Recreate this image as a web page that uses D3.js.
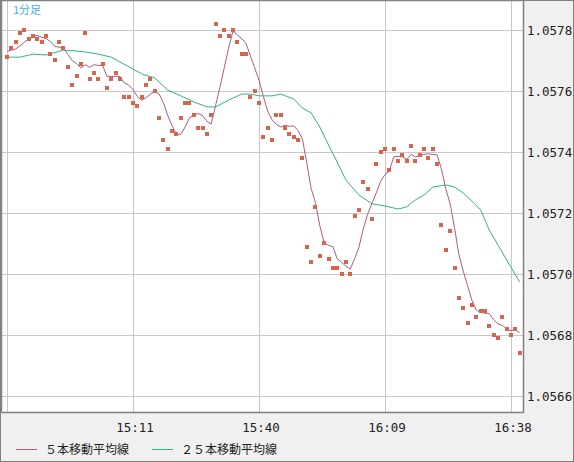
<!DOCTYPE html>
<html><head><meta charset="utf-8">
<script src="https://cdn.jsdelivr.net/npm/d3@7"></script>
<style>body{margin:0;background:#f0f0f0}</style>
</head><body><div id="chart"></div>
<script>
// 1-minute closes, 1.05xxx (last three digits, x1e-5)
let closes = [771,774,776,779,780,777,778,777,776,778,
    772,770,776,774,768,762,765,769,779,764,
    766,764,769,761,764,766,764,758,758,756,
    755,758,762,764,760,751,744,741,747,746,
    751,756,756,752,748,748,746,752,782,778,
    780,778,780,776,772,772,758,760,756,745,
    748,744,752,752,748,746,745,744,738,709,
    704,722,706,710,705,702,702,700,704,700,
    719,721,730,728,718,736,740,741,734,741,
    737,739,737,742,737,739,741,738,741,736,
    716,708,714,702,692,689,684,690,686,688,
    688,683,680,679,686,682,680,682,674].map(d => 1.05 + d / 1e5);
// closes before the window, needed for the 5-bar average
let priorCloses = [772, 774, 774, 774].map(d => 1.05 + d / 1e5);

let ma25Idx = [0,3,6,9,13,16,18,21,24,26,29,31,34,37,40,43,46,48,51,54,56,58,61,63,66,68,70,72,74,76,78,81,84,87,90,92,94,96,98,101,103,105,107,109,111,113,115,118];
let ma25Val = [1.057711,1.057711,1.057721,1.057718,1.057734,1.057731,1.057728,1.057721,1.057711,1.057695,1.057672,1.057656,1.057643,1.057603,1.057584,1.057564,1.057548,1.057548,1.057570,1.057590,1.057590,1.057584,1.057584,1.057590,1.057574,1.057544,1.057528,1.057482,1.057423,1.057367,1.057308,1.057259,1.057230,1.057223,1.057213,1.057220,1.057243,1.057259,1.057285,1.057292,1.057285,1.057266,1.057239,1.057210,1.057144,1.057095,1.057046,1.056974];

let priceTicks = [1.0566, 1.0568, 1.0570, 1.0572, 1.0574, 1.0576, 1.0578];
let timeTicks = [{i: 29, label: "15:11"}, {i: 58, label: "15:40"}, {i: 87, label: "16:09"}, {i: 116, label: "16:38"}];

let width = 574, height = 462;
let plot = {left: 2, right: 523, top: 0, bottom: 412};

let svg = d3.select("#chart").append("svg")
    .attr("width", width)
    .attr("height", height)
    .style("font-family", "'DejaVu Sans Mono', monospace");

svg.append("rect").attr("width", width).attr("height", height).attr("fill", "#f0f0f0");
svg.append("rect")
    .attr("x", plot.left).attr("y", plot.top)
    .attr("width", plot.right - plot.left).attr("height", plot.bottom - plot.top)
    .attr("fill", "white");

let x = d3.scaleLinear().domain([0, 118]).range([7, 519.7]);
let y = d3.scaleLinear().domain([1.0566, 1.0578]).range([396, 30]);

// grid
svg.selectAll(".hgrid").data(priceTicks).enter().append("line")
    .attr("x1", plot.left).attr("x2", plot.right)
    .attr("y1", d => Math.round(y(d)) + 0.5).attr("y2", d => Math.round(y(d)) + 0.5)
    .attr("stroke", "#c8c8c8");
svg.selectAll(".vgrid").data([0].concat(timeTicks.map(t => t.i))).enter().append("line")
    .attr("x1", d => Math.round(x(d)) + 0.5).attr("x2", d => Math.round(x(d)) + 0.5)
    .attr("y1", plot.top).attr("y2", plot.bottom)
    .attr("stroke", "#c8c8c8");

// moving averages
let all = priorCloses.concat(closes);
let ma5 = closes.map((c, i) => d3.mean(all.slice(i, i + 5)));

svg.append("path")
    .datum(ma25Idx.map((d, k) => [d, ma25Val[k]]))
    .attr("fill", "none").attr("stroke", "#2db585").attr("stroke-width", 1)
    .attr("d", d3.line().x(d => x(d[0])).y(d => y(d[1])));

svg.append("path")
    .datum(ma5)
    .attr("fill", "none").attr("stroke", "#b05a80").attr("stroke-width", 1)
    .attr("d", d3.line().x((d, i) => x(i)).y(d => y(d)));

svg.selectAll(".dot").data(closes).enter().append("rect")
    .attr("x", (d, i) => Math.round(x(i)) - 2)
    .attr("y", d => Math.round(y(d)) - 2)
    .attr("width", 4).attr("height", 4)
    .attr("fill", "#d9644c");

// frame
svg.append("path")
    .attr("d", `M${plot.left - 0.5},${plot.bottom + 0.5}V0.5H${plot.right + 0.5}V${plot.bottom + 0.5}H${plot.left - 0.5}`)
    .attr("fill", "none").attr("stroke", "#808080").attr("stroke-width", 1.5);
svg.append("rect").attr("x", 0.5).attr("y", 0.5).attr("width", width - 1).attr("height", height - 1)
    .attr("fill", "none").attr("stroke", "#808080");

// axes labels
svg.selectAll(".plabel").data(priceTicks).enter().append("text")
    .attr("x", 527).attr("y", d => y(d)).attr("dy", "0.36em")
    .attr("font-size", "12.5px").attr("fill", "#222")
    .text(d => d.toFixed(4));
svg.selectAll(".tlabel").data(timeTicks).enter().append("text")
    .attr("x", d => x(d.i) + 2).attr("y", 432)
    .attr("text-anchor", "middle")
    .attr("font-size", "12.5px").attr("fill", "#222")
    .text(d => d.label);

svg.append("text").attr("x", 13).attr("y", 14)
    .attr("font-family", "'Noto Sans CJK JP', sans-serif").attr("font-size", "11px")
    .attr("fill", "#3ab0e8").text("1分足");

// legend
let legend = [{label: "５本移動平均線", color: "#b05a80", x: 16}, {label: "２５本移動平均線", color: "#2db585", x: 152}];
let lg = svg.selectAll(".legend").data(legend).enter().append("g")
    .attr("transform", d => "translate(" + d.x + ",450)");
lg.append("line").attr("x1", 0).attr("x2", 21).attr("y1", -0.5).attr("y2", -0.5).attr("stroke", d => d.color);
lg.append("text").attr("x", 29).attr("y", 0).attr("dy", "0.35em")
    .attr("font-family", "'Noto Sans CJK JP', sans-serif").attr("font-size", "12px")
    .attr("fill", "#222").text(d => d.label);
</script></body></html>
